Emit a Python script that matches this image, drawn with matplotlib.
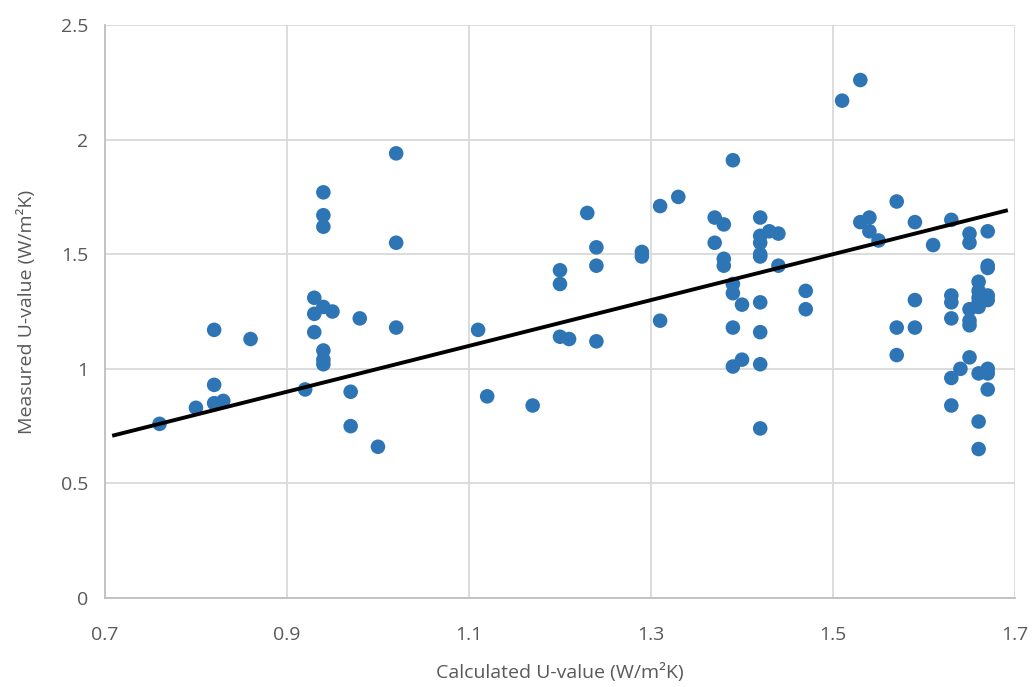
import matplotlib.pyplot as plt

# Calculated vs measured U-values (W/m2K)
calc = [0.76, 0.80, 0.82, 0.83, 0.82, 0.82, 0.86, 0.92, 0.93, 0.93, 0.93,
        0.94, 0.94, 0.94, 0.94, 0.95, 0.94, 0.94, 0.94, 0.97, 0.97, 0.98,
        1.00, 1.02, 1.02, 1.02,
        1.11, 1.12, 1.17, 1.20, 1.20, 1.20, 1.21, 1.23, 1.24, 1.24, 1.24,
        1.29, 1.29, 1.31, 1.31, 1.33,
        1.37, 1.37, 1.38, 1.38, 1.38, 1.39, 1.39, 1.39, 1.39, 1.39, 1.40,
        1.40, 1.42, 1.42, 1.42, 1.42, 1.42, 1.42, 1.42, 1.42, 1.42, 1.43,
        1.44, 1.44, 1.47, 1.47,
        1.51, 1.53, 1.53, 1.54, 1.54, 1.55, 1.57, 1.57, 1.57, 1.59, 1.59,
        1.59, 1.61, 1.63, 1.63, 1.63, 1.63, 1.63, 1.63, 1.64, 1.65, 1.65,
        1.65, 1.65, 1.65, 1.65, 1.66, 1.66, 1.66, 1.66, 1.66, 1.66, 1.66,
        1.66, 1.67, 1.67, 1.67, 1.67, 1.67, 1.67, 1.67, 1.67]
measured = [0.76, 0.83, 0.85, 0.86, 0.93, 1.17, 1.13, 0.91, 1.31, 1.24, 1.16,
            1.77, 1.67, 1.62, 1.27, 1.25, 1.08, 1.04, 1.02, 0.90, 0.75, 1.22,
            0.66, 1.94, 1.55, 1.18,
            1.17, 0.88, 0.84, 1.43, 1.37, 1.14, 1.13, 1.68, 1.53, 1.45, 1.12,
            1.51, 1.49, 1.71, 1.21, 1.75,
            1.66, 1.55, 1.63, 1.48, 1.45, 1.91, 1.37, 1.33, 1.18, 1.01, 1.28,
            1.04, 1.66, 1.58, 1.55, 1.50, 1.49, 1.29, 1.16, 1.02, 0.74, 1.60,
            1.59, 1.45, 1.34, 1.26,
            2.17, 2.26, 1.64, 1.66, 1.60, 1.56, 1.73, 1.18, 1.06, 1.64, 1.30,
            1.18, 1.54, 1.65, 1.32, 1.29, 1.22, 0.96, 0.84, 1.00, 1.59, 1.55,
            1.26, 1.21, 1.19, 1.05, 1.38, 1.34, 1.31, 1.29, 1.27, 0.98, 0.77,
            0.65, 1.60, 1.45, 1.44, 1.32, 1.30, 1.00, 0.98, 0.91]

# 1:1 reference line
line_x = [0.71, 1.69]
line_y = [0.71, 1.69]

xticks = [0.7, 0.9, 1.1, 1.3, 1.5, 1.7]
yticks = [0, 0.5, 1, 1.5, 2, 2.5]

plt.rcParams['font.family'] = ['Open Sans', 'DejaVu Sans']

fig = plt.figure(figsize=(10.35, 6.87), dpi=100)
ax = fig.add_axes([0.1014, 0.1295, 0.8793, 0.8341])

ax.scatter(calc, measured, s=110, color='#2E75B6', edgecolors='none', zorder=3)
ax.plot(line_x, line_y, color='black', linewidth=2.8, zorder=4)

ax.set_xlim(0.7, 1.7)
ax.set_ylim(0, 2.5)
ax.set_xticks(xticks)
ax.set_xticklabels([str(t) for t in xticks])
ax.set_yticks(yticks)
ax.set_yticklabels(['0', '0.5', '1', '1.5', '2', '2.5'])

ax.grid(True, color='#D9D9D9', linewidth=1.3, zorder=0)
ax.set_axisbelow(True)
for side in ['top', 'right']:
    ax.spines[side].set_visible(False)
for side in ['left', 'bottom']:
    ax.spines[side].set_color('#BFBFBF')
    ax.spines[side].set_linewidth(1.3)

ax.tick_params(length=0, labelsize=14, labelcolor='#595959')
ax.tick_params(axis='x', pad=20)
ax.tick_params(axis='y', pad=12)
ax.set_xlabel('Calculated U-value (W/m²K)', fontsize=14, color='#595959', labelpad=14)
ax.set_ylabel('Measured U-value (W/m²K)', fontsize=14, color='#595959', labelpad=18)

fig.savefig('out.png', dpi=100)
